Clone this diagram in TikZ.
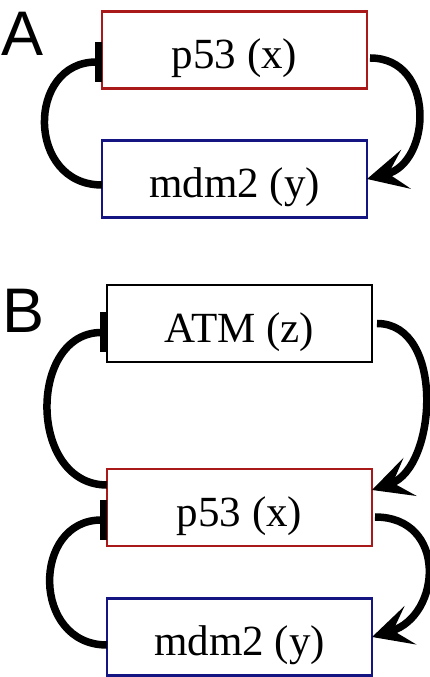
\documentclass[tikz,border=0pt]{standalone}
\usepackage{fontspec}
\setmainfont{Liberation Serif}
\newfontfamily\panelfont{Liberation Sans}
\usetikzlibrary{arrows.meta}
\definecolor{boxred}{RGB}{170,25,25}
\definecolor{boxblue}{RGB}{20,20,130}

\begin{document}
\begin{tikzpicture}[x=1pt,y=1pt,
  species/.style={draw, line width=2.5pt, minimum width=265pt, minimum height=77pt,
    inner sep=0pt, outer sep=0pt, text height=38pt, text depth=0pt,
    font=\fontsize{43}{50}\selectfont},
  activ/.style={line width=7.5pt, -{Stealth[length=40pt,width=40pt,inset=18pt]}},
  repress/.style={line width=7.5pt, -{Bar[width=40pt]}},
  panel/.style={inner sep=0pt, font=\panelfont\fontsize{63}{70}\selectfont}]
\useasboundingbox (0,0) rectangle (429,677);
% A
\node[panel] (labA) at (23,643.5) {A};
\node[species, draw=boxred] (pA) at (234.5,627) {p53 (x)};
\node[species, draw=boxblue] (mA) at (234.5,498) {mdm2 (y)};
\draw[activ] ([xshift=3pt,yshift=-8pt]pA.east) to[out=0,in=14,looseness=1.4] (mA.east);
\draw[repress] ([yshift=-6pt]mA.west) to[out=180,in=180,looseness=1.58] ([yshift=-12pt]pA.west);
% B
\node[panel] (labB) at (24,366) {B};
\node[species] (zB) at (239.5,353.5) {ATM (z)};
\node[species, draw=boxred] (pB) at (239.5,169.5) {p53 (x)};
\node[species, draw=boxblue] (mB) at (239.5,40) {mdm2 (y)};
\draw[activ] ([xshift=5pt]zB.east) to[out=0,in=19,looseness=1.05] ([yshift=17.5pt]pB.east);
\draw[activ] ([xshift=3pt,yshift=-9.5pt]pB.east) to[out=0,in=17,looseness=1.55] (mB.east);
\draw[repress] ([yshift=22.5pt]pB.west) to[out=180,in=180,looseness=1.33] ([yshift=-9pt]zB.west);
\draw[repress] ([yshift=-8pt]mB.west) to[out=180,in=180,looseness=1.55] ([yshift=-12.5pt]pB.west);
\end{tikzpicture}
\end{document}
